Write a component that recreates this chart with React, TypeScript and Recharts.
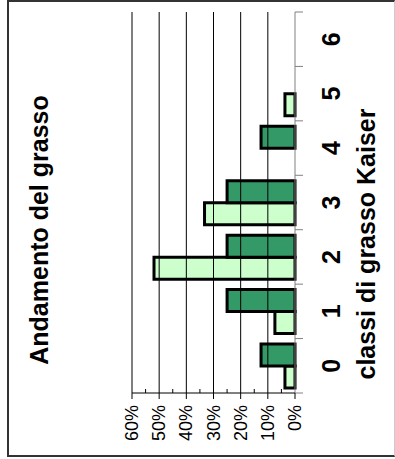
import React from "react";
import { Bar, BarChart, ReferenceLine, XAxis, YAxis } from "recharts";

// classi di grasso (categorie) e percentuali delle due serie
const classes = ["0", "1", "2", "3", "4", "5", "6"];
const lightSeries = [3.7, 7.4, 51.9, 33.3, 0, 3.7, 0];
const darkSeries = [12.5, 25, 25, 25, 12.5, 0, 0];
const yTicks = [0, 5, 10, 15, 20, 25, 30, 35, 40, 45, 50, 55, 60];
const gridValues = [10, 20, 30, 40, 50, 60];

const FONT = "'Liberation Sans', Arial, sans-serif";

// the chart is drawn upright and then turned 90deg to the left
const W = 459;
const H = 395;
const MARGIN = { top: 132, right: 12, left: 6, bottom: 60 };
const Y_W = 60;
const X_H = 40;
const AXIS_X = MARGIN.left + Y_W;
const AXIS_Y = H - MARGIN.bottom - X_H;
const BAND = (W - MARGIN.right - AXIS_X) / classes.length;

const data = classes.map((c, i) => ({
	cls: c,
	light: lightSeries[i],
	dark: darkSeries[i],
}));

const YTick = (props: any) => {
	const { y, payload } = props;
	const v = payload.value as number;
	const major = v % 10 === 0;
	return (
		<g>
			{major ? (
				<line x1={AXIS_X - 6} x2={AXIS_X} y1={y} y2={y} stroke="#000" />
			) : (
				<line x1={AXIS_X} x2={AXIS_X + 4} y1={y} y2={y} stroke="#000" />
			)}
			{major && (
				<text
					x={AXIS_X - 12}
					y={y}
					textAnchor="end"
					dominantBaseline="central"
					fontFamily={FONT}
					fontSize={18}
					fill="#000"
				>
					{`${v}%`}
				</text>
			)}
		</g>
	);
};

const XTick = (props: any) => {
	const { x, payload, index } = props;
	const left = x - BAND / 2;
	const right = x + BAND / 2;
	return (
		<g>
			<line x1={left} x2={left} y1={AXIS_Y} y2={AXIS_Y + 8} stroke="#808080" />
			{index === classes.length - 1 && (
				<line x1={right} x2={right} y1={AXIS_Y} y2={AXIS_Y + 8} stroke="#808080" />
			)}
			<text
				x={x}
				y={AXIS_Y + 45}
				textAnchor="middle"
				fontFamily={FONT}
				fontSize={25}
				fontWeight="bold"
				fill="#000"
			>
				{payload.value}
			</text>
		</g>
	);
};

export default function App() {
	return (
		<div
			style={{
				position: "absolute",
				left: 0,
				top: 0,
				width: 395,
				height: 459,
				overflow: "hidden",
				background: "#fff",
			}}
		>
			<div
				style={{
					position: "absolute",
					left: 7,
					top: 0,
					width: 385,
					height: 453,
					borderTop: "2px solid #333",
					borderLeft: "2px solid #333",
					borderBottom: "2px solid #333",
					borderRight: "1px solid #ccc",
				}}
			/>
			<div
				style={{
					position: "absolute",
					left: 0,
					top: 0,
					width: W,
					height: H,
					transformOrigin: "0 0",
					transform: `translateY(${W}px) rotate(-90deg)`,
				}}
			>
				<BarChart
					width={W}
					height={H}
					data={data}
					margin={MARGIN}
					barGap={0}
					barSize={22}
				>
					<XAxis
						dataKey="cls"
						height={X_H}
						interval={0}
						tickLine={false}
						axisLine={{ stroke: "#808080" }}
						tick={<XTick />}
					/>
					<YAxis
						width={Y_W}
						domain={[0, 60]}
						ticks={yTicks}
						interval={0}
						tickLine={false}
						axisLine={{ stroke: "#000" }}
						tick={<YTick />}
					/>
					{gridValues.map((v) => (
						<ReferenceLine key={v} y={v} stroke="#000" />
					))}
					<Bar
						dataKey="light"
						fill="#ccffcc"
						stroke="#000"
						strokeWidth={3}
						isAnimationActive={false}
					/>
					<Bar
						dataKey="dark"
						fill="#339966"
						stroke="#000"
						strokeWidth={3}
						isAnimationActive={false}
					/>
				</BarChart>
				<svg
					width={W}
					height={H}
					style={{ position: "absolute", left: 0, top: 0, pointerEvents: "none" }}
				>
					<text
						x={229}
						y={48}
						textAnchor="middle"
						fontFamily={FONT}
						fontSize={25}
						fontWeight="bold"
						fill="#000"
					>
						Andamento del grasso
					</text>
					<text
						x={215}
						y={375}
						textAnchor="middle"
						fontFamily={FONT}
						fontSize={25}
						fontWeight="bold"
						fill="#000"
					>
						classi di grasso Kaiser
					</text>
				</svg>
			</div>
		</div>
	);
}
